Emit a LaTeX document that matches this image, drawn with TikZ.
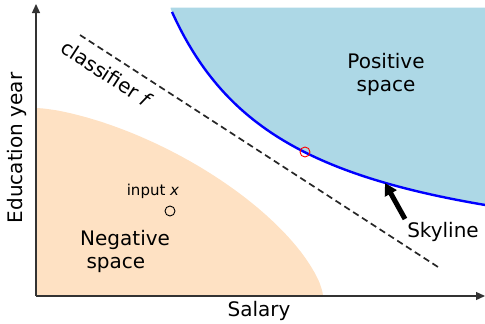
\documentclass[tikz,border=0pt]{standalone}
\usepackage{fontspec}
\setmainfont{DejaVu Sans}
\usetikzlibrary{arrows.meta}
\definecolor{posblue}{HTML}{ADD8E6}
\definecolor{negpeach}{HTML}{FEE1C3}
\definecolor{axisgray}{HTML}{333333}
\begin{document}
\begin{tikzpicture}[x=1pt,y=-1pt,
  lbl/.style={font=\fontsize{20}{23}\selectfont, inner sep=0pt},
  smalllbl/.style={font=\fontsize{15}{18}\selectfont, inner sep=0pt},
  axisline/.style={draw=axisgray, line width=1.3pt, -{Triangle[length=9pt,width=8pt]}},
  classline/.style={draw=black!85, line width=1.7pt, dash pattern=on 6.5pt off 4pt},
  skyline/.style={draw=blue, line width=2.4pt},
  pointmark/.style={circle, inner sep=0pt, minimum size=10pt, line width=0.9pt},
  bigarrow/.style={draw=black, line width=5pt, -{Triangle[length=12pt,width=13pt]}}
]
\useasboundingbox (0,0) rectangle (485,324);
% regions
\fill[negpeach] (36,296) -- (36,108) -- plot[domain=89.9:0.1, samples=120]
  ({36+287*pow(cos(\x),4/3)}, {296-188*pow(sin(\x),4/3)}) -- (323,296) -- cycle;
\fill[posblue] plot[domain=170.5:485, samples=150] (\x, {282.4-330/((\x-50)/100)-0.5*(\x-170)/100})
  -- (485,7.5) -- (170.5,7.5) -- cycle;
\draw[skyline] plot[domain=172:485, samples=150] (\x, {282.4-330/((\x-50)/100)-0.5*(\x-170)/100});
% classifier line
\coordinate (d1) at (80,35);
\coordinate (d2) at (438,267);
\draw[classline] (d1) -- (d2);
\node[lbl, rotate=-33] (cls) at (107,74) {classifier \textit{f}};
% axes
\coordinate (O) at (36,296);
\coordinate (ytop) at (36,4);
\coordinate (xend) at (485,296);
\draw[axisline] (O) -- (ytop);
\draw[axisline] (O) -- (xend);
\node[lbl] (xlab) at (259,311) {Salary};
\node[lbl, rotate=90] (ylab) at (16.5,148) {Education year};
% labels
\node[lbl, align=center] (pos) at (386,74) {Positive\\space};
\node[lbl, align=left, anchor=west] (neg) at (80,251) {Negative\\~space};
\node[smalllbl] (inp) at (153,191) {input \textit{x}};
\node[pointmark, draw=black] (xpt) at (170,211) {};
\node[pointmark, draw=red] (cf) at (305,152) {};
% skyline arrow
\node[lbl] (sky) at (443,232) {Skyline};
\coordinate (skytail) at (405,219);
\coordinate (skytip) at (385,183);
\draw[bigarrow] (skytail) -- (skytip);
\end{tikzpicture}
\end{document}
